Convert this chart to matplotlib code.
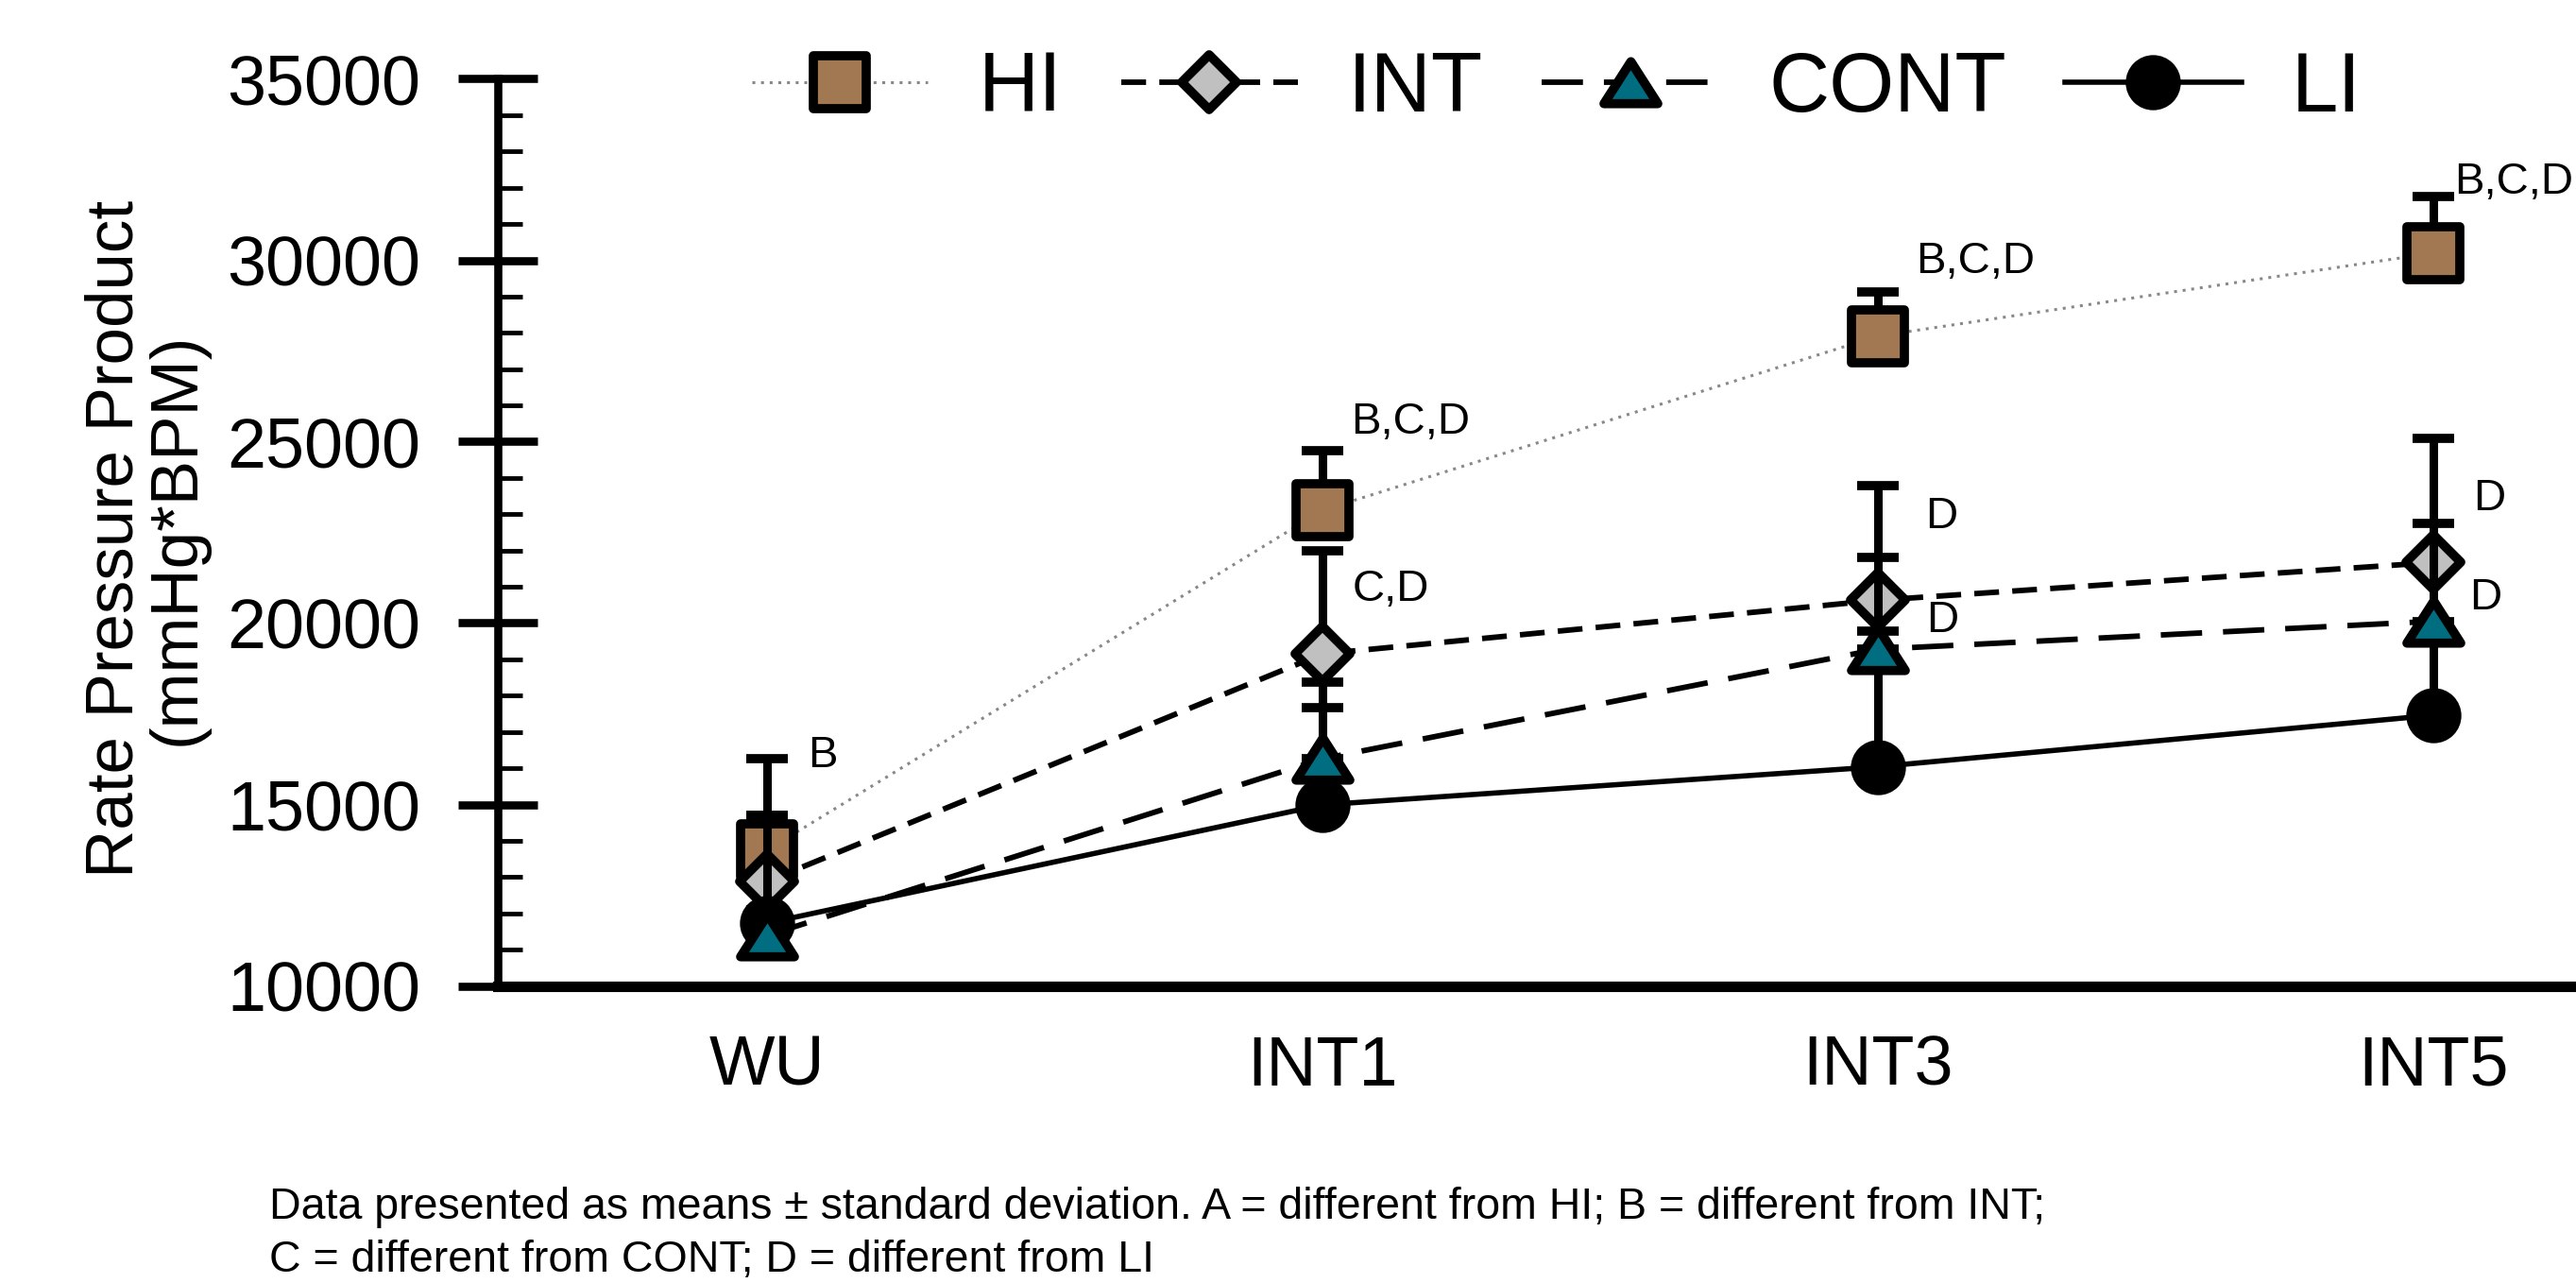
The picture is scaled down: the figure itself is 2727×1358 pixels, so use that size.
import numpy as np
import matplotlib
matplotlib.use('Agg')
import matplotlib.pyplot as plt
from matplotlib.path import Path
from matplotlib.markers import MarkerStyle
from matplotlib.ticker import MultipleLocator

plt.rcParams['font.family'] = ['Liberation Sans', 'DejaVu Sans']

timepoints = ['WU', 'INT1', 'INT3', 'INT5']
groups = ['HI', 'INT', 'CONT', 'LI']

# means
hi_mean = [13740, 23110, 27910, 30200]
int_mean = [12880, 19150, 20630, 21670]
cont_mean = [11390, 16260, 19280, 20050]
li_mean = [11730, 14990, 16040, 17460]

# upper error (SD), only the upper half is drawn in the figure
hi_sd = [2520, 1640, 1210, 1560]
int_sd = [1820, 2840, 3150, 3420]
cont_sd = [700, 2110, 2535, 2700]
li_sd = [2970, 2680, 3750, 2240]

# significance letters
ann_text = ['B', 'B,C,D', 'C,D', 'B,C,D', 'D', 'D', 'B,C,D', 'D', 'D']
ann_idx = [0, 1, 1, 2, 2, 2, 3, 3, 3]
ann_val = [16340, 25530, 20920, 29950, 22920, 20070, 32160, 23420, 20700]
ann_dx = [0.073, 0.051, 0.054, 0.068, 0.085, 0.087, 0.038, 0.071, 0.065]

footnote1 = 'Data presented as means \u00b1 standard deviation. A = different from HI; B = different from INT;'
footnote2 = 'C = different from CONT; D = different from LI'

x = np.arange(len(timepoints))

fig = plt.figure(figsize=(27.27, 13.58), dpi=100)
ax = fig.add_axes([527 / 2727, 1 - 1043.5 / 1358, 1 - 527 / 2727, (1043.5 - 83.5) / 1358])

tri_path = Path([(-1, -0.78), (1, -0.78), (0, 0.78), (-1, -0.78)], closed=True)

def mk(m):
    return MarkerStyle(m, joinstyle='round')

mew = 7
styles = {
    'HI': dict(marker=mk('s'), ms=40, mfc='#A27853', color='#888888', lw=2.2, ls=(0, (1, 2)), z=3, ez=2.5),
    'INT': dict(marker=mk('D'), ms=30, mfc='#C0C0C0', color='black', lw=4.2, ls=(0, (4.5, 2.4)), z=4, ez=3.5),
    'CONT': dict(marker=mk(tri_path), ms=41, mfc='#006E80', color='black', lw=4.2, ls=(0, (7.5, 3.8)), z=6, ez=4.5),
    'LI': dict(marker=mk('o'), ms=35, mfc='black', color='black', lw=4.0, ls='-', z=5, ez=4.5),
}
means = {'HI': hi_mean, 'INT': int_mean, 'CONT': cont_mean, 'LI': li_mean}
sds = {'HI': hi_sd, 'INT': int_sd, 'CONT': cont_sd, 'LI': li_sd}

handles = []
for g in groups:
    s = styles[g]
    eb = ax.errorbar(x, means[g], yerr=[np.zeros(len(x)), sds[g]], fmt='none',
                     ecolor='black', elinewidth=6.5, capsize=16, capthick=7)
    for c in eb.lines[1]:
        c.set_zorder(s['ez'])
    for c in eb.lines[2]:
        c.set_zorder(s['ez'])
    ln, = ax.plot(x, means[g], marker=s['marker'], ms=s['ms'], mfc=s['mfc'], mec='black',
                  mew=mew, color=s['color'], lw=s['lw'], ls=s['ls'], zorder=s['z'], label=g)
    handles.append(ln)

for t, i, v, dx in zip(ann_text, ann_idx, ann_val, ann_dx):
    ax.text(i + dx, v, t, fontsize=34, ha='left', va='center', zorder=10)

ax.set_xlim(-0.485, 3.257)
ax.set_ylim(10000, 35000)
ax.set_xticks(x)
ax.set_xticklabels(timepoints)
ax.set_yticks(np.arange(10000, 35001, 5000))
ax.yaxis.set_minor_locator(MultipleLocator(1000))

ax.spines['top'].set_visible(False)
ax.spines['right'].set_visible(False)
ax.spines['left'].set_linewidth(6.2)
ax.spines['bottom'].set_linewidth(8)
ax.tick_params(axis='y', which='major', direction='inout', length=60, width=6.2, pad=29, labelsize=53)
ax.tick_params(axis='y', which='minor', direction='in', length=19, width=3.5)
ax.tick_params(axis='x', which='both', length=0, pad=37, labelsize=53)

fig.text(155 / 2727, 1 - 570 / 1358, 'Rate Pressure Product\n(mmHg*BPM)', rotation=90,
         ha='center', va='center', fontsize=51, multialignment='center', linespacing=0.98)

ax.legend(handles=handles, ncol=4, loc='center', bbox_to_anchor=(1648 / 2727, 1 - 95 / 1358),
          bbox_transform=fig.transFigure, frameon=False, fontsize=64, handlelength=2.1,
          handletextpad=0.6, columnspacing=0.7, borderaxespad=0, borderpad=0)

fig.text(285 / 2727, 1 - 1290 / 1358, footnote1, fontsize=33.5, ha='left', va='baseline')
fig.text(285 / 2727, 1 - 1346 / 1358, footnote2, fontsize=33.5, ha='left', va='baseline')

fig.savefig('out.png', dpi=100)
